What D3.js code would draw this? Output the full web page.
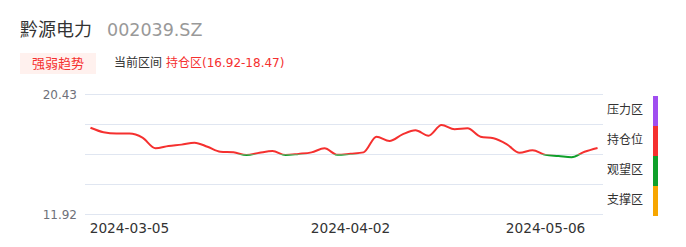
<!DOCTYPE html>
<html lang="zh">
<meta charset="utf-8">
<script src="https://d3js.org/d3.v7.min.js"></script>
<style>
  body { margin: 0; background: #fff; }
  text { font-family: "DejaVu Sans", "Noto Sans CJK SC", sans-serif; }
</style>
<div id="my_dataviz"></div>
<script>

// stock + zone info
var stockName = "黔源电力";
var stockCode = "002039.SZ";
var currentZone = "持仓区(16.92-18.47)";

// zone edges, bottom to top
var zoneEdges = [11.92, 15.30, 16.92, 18.47, 20.43];
var zoneNames = ["支撑区", "观望区", "持仓位", "压力区"];
var zoneColors = ["#f7a600", "#0fa02a", "#f5302f", "#a04ef0"];

var dates = [
  "2024-02-29", "2024-03-01", "2024-03-04", "2024-03-05", "2024-03-06",
  "2024-03-07", "2024-03-11", "2024-03-12", "2024-03-13", "2024-03-14",
  "2024-03-18", "2024-03-19", "2024-03-20", "2024-03-21", "2024-03-25",
  "2024-03-26", "2024-03-27", "2024-03-28", "2024-03-29", "2024-04-01",
  "2024-04-02", "2024-04-03", "2024-04-08", "2024-04-09", "2024-04-10",
  "2024-04-11", "2024-04-15", "2024-04-16", "2024-04-17", "2024-04-18",
  "2024-04-22", "2024-04-23", "2024-04-24", "2024-04-25", "2024-04-29",
  "2024-05-06", "2024-05-07", "2024-05-08", "2024-05-09", "2024-05-10"
];
var prices = [
  18.30, 18.07, 18.00, 18.00, 17.79, 17.24, 17.36, 17.43, 17.53, 17.32,
  17.06, 17.03, 16.89, 17.01, 17.10, 16.89, 16.95, 17.03, 17.24, 16.90,
  16.96, 17.03, 17.84, 17.62, 17.96, 18.17, 17.89, 18.44, 18.22, 18.27,
  17.84, 17.76, 17.46, 17.01, 17.14, 16.90, 16.84, 16.77, 17.06, 17.26
];
var tickDates = ["2024-03-05", "2024-04-02", "2024-05-06"];

var W = 686, H = 247;
var plotLeft = 85, plotRight = 603, plotTop = 94.5, plotBottom = 214.5;

var svg = d3.select("#my_dataviz")
  .append("svg")
    .attr("width", W)
    .attr("height", H);

// header
svg.append("text")
    .attr("x", 20).attr("y", 36)
    .style("font-size", "18px")
    .style("fill", "#333")
    .text(stockName);
svg.append("text")
    .attr("x", 107).attr("y", 36)
    .style("font-size", "17.5px")
    .style("fill", "#999")
    .text(stockCode);

svg.append("rect")
    .attr("x", 20).attr("y", 53)
    .attr("width", 76).attr("height", 21)
    .style("fill", "#fff1ee");
svg.append("text")
    .attr("x", 58).attr("y", 67.5)
    .attr("text-anchor", "middle")
    .style("font-size", "13px")
    .style("fill", "#f5302f")
    .text("强弱趋势");
svg.append("text")
    .attr("x", 114).attr("y", 67)
    .style("font-size", "12px")
    .style("fill", "#333")
    .text("当前区间");
svg.append("text")
    .attr("x", 166).attr("y", 67)
    .style("font-size", "12px")
    .style("fill", "#f5302f")
    .text(currentZone);

// scales
var x = d3.scalePoint()
  .domain(dates)
  .range([plotLeft, plotRight])
  .padding(0.42);

var y = d3.scaleLinear()
  .domain(zoneEdges)
  .range(zoneEdges.map(function(d, i) {
    return plotBottom - i * (plotBottom - plotTop) / (zoneEdges.length - 1);
  }));

// grid lines at zone edges
svg.append("g")
  .selectAll("line")
  .data(zoneEdges)
  .join("line")
    .attr("x1", plotLeft).attr("x2", plotRight)
    .attr("y1", function(d) { return y(d); })
    .attr("y2", function(d) { return y(d); })
    .style("stroke", "#e0e6f1")
    .style("stroke-width", 1);

// y labels (min / max only)
svg.append("g")
  .selectAll("text")
  .data([zoneEdges[0], zoneEdges[zoneEdges.length - 1]])
  .join("text")
    .attr("x", 77)
    .attr("y", function(d) { return y(d) + 4; })
    .attr("text-anchor", "end")
    .style("font-size", "12px")
    .style("fill", "#6e7079")
    .text(function(d) { return d.toFixed(2); });

// x labels
svg.append("g")
  .selectAll("text")
  .data(tickDates)
  .join("text")
    .attr("x", function(d) { return x(d); })
    .attr("y", 233)
    .attr("text-anchor", "middle")
    .style("font-size", "13.7px")
    .style("fill", "#333")
    .text(function(d) { return d; });

// line, red above the 持仓 floor, green below
var threshold = zoneEdges[2];
var defs = svg.append("defs");
defs.append("clipPath").attr("id", "clipAbove")
  .append("rect")
    .attr("x", 0).attr("y", 0)
    .attr("width", W).attr("height", y(threshold));
defs.append("clipPath").attr("id", "clipBelow")
  .append("rect")
    .attr("x", 0).attr("y", y(threshold))
    .attr("width", W).attr("height", H - y(threshold));

var line = d3.line()
  .x(function(d, i) { return x(dates[i]); })
  .y(function(d) { return y(d); })
  .curve(d3.curveMonotoneX);

svg.append("path")
    .datum(prices)
    .attr("d", line)
    .attr("clip-path", "url(#clipAbove)")
    .style("fill", "none")
    .style("stroke", "#f5302f")
    .style("stroke-width", 2);
svg.append("path")
    .datum(prices)
    .attr("d", line)
    .attr("clip-path", "url(#clipBelow)")
    .style("fill", "none")
    .style("stroke", "#0fa02a")
    .style("stroke-width", 2);

// zone legend on the right
var zones = zoneNames.map(function(name, i) {
  return { name: name, color: zoneColors[i], lo: zoneEdges[i], hi: zoneEdges[i + 1] };
});

svg.append("g")
  .selectAll("rect")
  .data(zones)
  .join("rect")
    .attr("x", 653)
    .attr("y", function(d) { return y(d.hi) + 1.5; })
    .attr("width", 5)
    .attr("height", function(d) { return y(d.lo) - y(d.hi); })
    .style("fill", function(d) { return d.color; });

svg.append("g")
  .selectAll("text")
  .data(zones)
  .join("text")
    .attr("x", 607)
    .attr("y", function(d) { return (y(d.lo) + y(d.hi)) / 2 + 4.5; })
    .style("font-size", "12px")
    .style("fill", "#333")
    .text(function(d) { return d.name; });

</script>
</html>
